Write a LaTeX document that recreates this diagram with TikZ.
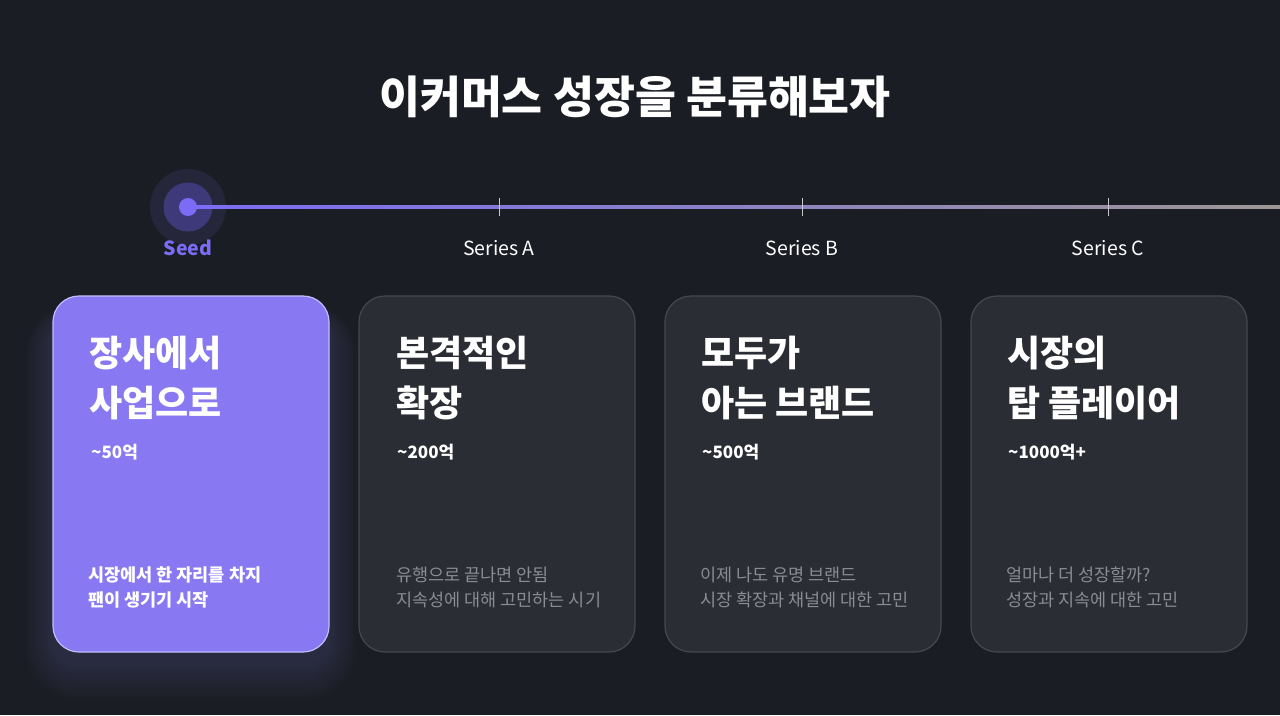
\documentclass[tikz,border=0pt]{standalone}
\usepackage{fontspec}
\setmainfont{Noto Sans CJK KR}
\definecolor{bgdark}{HTML}{1B1D24}
\definecolor{seedpurple}{HTML}{7B6CF6}
\definecolor{haloout}{HTML}{25263A}
\definecolor{haloin}{HTML}{3E3979}
\definecolor{lineend}{HTML}{9D9694}
\definecolor{cardon}{HTML}{8878F2}
\definecolor{cardonedge}{HTML}{C4BCFF}
\definecolor{cardoff}{HTML}{2B2D35}
\definecolor{cardoffedge}{HTML}{46484F}
\definecolor{tickgray}{HTML}{C8C8CC}
\definecolor{descgray}{HTML}{8A8C93}
\definecolor{glowc}{HTML}{7A72B8}
\tikzset{
  cardbox/.style={rounded corners=26pt, line width=1.2pt},
  cardtitle/.style={anchor=west, inner sep=0pt, align=left, text=white,
    font=\fontsize{36}{50}\selectfont\bfseries},
  cardamount/.style={anchor=west, inner sep=0pt, text=white,
    font=\fontsize{17}{20}\selectfont\bfseries},
  carddesc/.style={anchor=west, inner sep=0pt, align=left, text=descgray,
    font=\fontsize{17.5}{25}\selectfont},
  stagelabel/.style={inner sep=0pt, text=white, font=\fontsize{19.5}{20}\selectfont}
}
\begin{document}
\begin{tikzpicture}[x=1pt,y=-1pt]
\fill[bgdark] (0,0) rectangle (1280,715);
\useasboundingbox (0,0) rectangle (1280,715);

% title
\node[inner sep=0pt, text=white, font=\fontsize{44.5}{50}\selectfont\bfseries] (title) at (635,97) {이커머스 성장을 분류해보자};

% timeline
\fill[haloout] (188,207) circle (38);
\fill[haloin] (188,207) circle (24.5);
\shade[left color=seedpurple, right color=lineend] (188,205.6) rectangle (1280,208.6);
\fill[seedpurple] (188,207) circle (9);
\coordinate (seed) at (188,207);
\coordinate (lineend) at (1280,207);
\foreach \x/\nm in {499/tickA, 802/tickB, 1108/tickC} {
  \coordinate (\nm) at (\x,207);
  \draw[tickgray, line width=0.8pt] ([yshift=-9pt]\nm) -- ([yshift=9pt]\nm);
}
\node[stagelabel, text=seedpurple, font=\fontsize{19.5}{20}\selectfont\bfseries] (seedlabel) at (188,248) {Seed};
\node[stagelabel] (labelA) at (499,248) {Series A};
\node[stagelabel] (labelB) at (802,248) {Series B};
\node[stagelabel] (labelC) at (1108,248) {Series C};

% glow under the active card
\foreach \k in {1,...,14}
  \fill[glowc, opacity=0.018, rounded corners=26pt+\k*2pt]
    (53-\k*2,296+20-\k*1) rectangle (329+\k*2,652+10+\k*2.8);

% cards
\draw[cardbox, fill=cardon, draw=cardonedge] (53,296) rectangle (329,652);
\draw[cardbox, fill=cardoff, draw=cardoffedge] (359,296) rectangle (635,652);
\draw[cardbox, fill=cardoff, draw=cardoffedge] (665,296) rectangle (941,652);
\draw[cardbox, fill=cardoff, draw=cardoffedge] (971,296) rectangle (1247,652);

% card texts
\node[cardtitle] (seedtitle) at (89,378) {장사에서\\사업으로};
\node[cardamount] (seedamount) at (91,452) {\textasciitilde50억};
\node[carddesc, text=white, font=\fontsize{17.5}{25}\selectfont\bfseries] (seeddesc) at (88,587) {시장에서 한 자리를 차지\\팬이 생기기 시작};

\node[cardtitle] (atitle) at (396,378) {본격적인\\확장};
\node[cardamount] (aamount) at (397,452) {\textasciitilde200억};
\node[carddesc] (adesc) at (396,587) {유행으로 끝나면 안됨\\지속성에 대해 고민하는 시기};

\node[cardtitle] (btitle) at (701,378) {모두가\\아는 브랜드};
\node[cardamount] (bamount) at (702,452) {\textasciitilde500억};
\node[carddesc] (bdesc) at (700,587) {이제 나도 유명 브랜드\\시장 확장과 채널에 대한 고민};

\node[cardtitle] (ctitle) at (1007,378) {시장의\\탑 플레이어};
\node[cardamount] (camount) at (1008,452) {\textasciitilde1000억+};
\node[carddesc] (cdesc) at (1006,587) {얼마나 더 성장할까?\\성장과 지속에 대한 고민};
\end{tikzpicture}
\end{document}
